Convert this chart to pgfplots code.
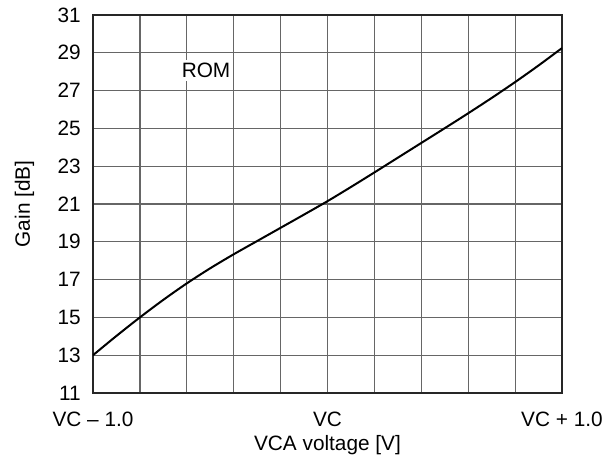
\documentclass[border=0pt]{standalone}
\usepackage{fontspec}
\setmainfont{Liberation Sans}
\usepackage{pgfplots}
\pgfplotsset{compat=1.18}
\definecolor{gridc}{gray}{0.4}
\begin{document}
\fontsize{10.4}{12.5}\selectfont
\begin{tikzpicture}[x=0.5pt,y=0.5pt]
\useasboundingbox (-93,-66) rectangle (522,393);
\begin{axis}[
  at={(0pt,0pt)}, anchor=south west,
  width=234.5pt, height=189pt, scale only axis,
  xmin=-1, xmax=1, ymin=11, ymax=31,
  xtick={-1,0,1},
  xticklabels={VC \textendash{} 1.0, VC, VC + 1.0},
  minor xtick={-0.8,-0.6,-0.4,-0.2,0.2,0.4,0.6,0.8},
  ytick={11,13,...,31},
  /pgf/number format/assume math mode=true,
  grid=both,
  major grid style={gridc, line width=0.6pt},
  minor grid style={gridc, line width=0.6pt},
  major tick length=0pt, minor tick length=0pt,
  axis line style={black!85, line width=0.9pt},
  xticklabel style={yshift=-6pt},
  yticklabel style={xshift=-2.5pt},
  xlabel={VCA voltage [V]},
  ylabel={Gain [dB]},
  xlabel style={yshift=3pt},
  ylabel style={yshift=4.5pt},
]
\addplot[black, line width=1pt, smooth] coordinates {
(-1.0,13.0) (-0.9,14.02) (-0.8,15.0) (-0.7,15.93) (-0.6,16.80) (-0.5,17.60)
(-0.4,18.34) (-0.3,19.04) (-0.2,19.74) (-0.1,20.44) (0.0,21.15) (0.1,21.90)
(0.2,22.67) (0.3,23.45) (0.4,24.23) (0.5,25.01) (0.6,25.80) (0.7,26.61)
(0.8,27.45) (0.9,28.33) (1.0,29.25)
};
\node[fill=white, inner sep=1.5pt] at (axis cs:-0.518,28.05) {ROM};
\end{axis}
\end{tikzpicture}
\end{document}
